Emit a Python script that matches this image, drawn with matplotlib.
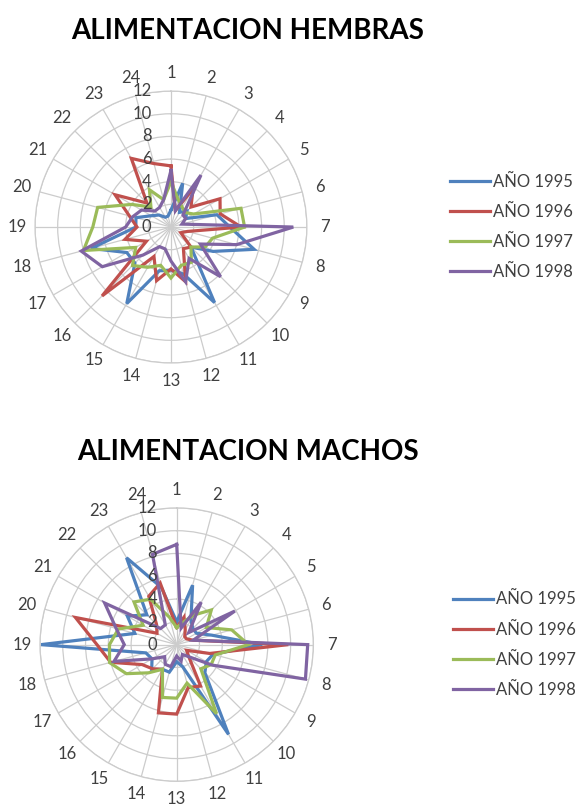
import numpy as np
import matplotlib
matplotlib.use("Agg")
import matplotlib.pyplot as plt
import matplotlib.transforms as mtransforms
from matplotlib.lines import Line2D

# --- datos ---
CATEGORIAS = ["1", "2", "3", "4", "5", "6", "7", "8", "9", "10", "11", "12",
              "13", "14", "15", "16", "17", "18", "19", "20", "21", "22", "23", "24"]
SERIES = ["AÑO 1995", "AÑO 1996", "AÑO 1997", "AÑO 1998"]
R_TICKS = [0, 2, 4, 6, 8, 10, 12]

hembras_1995 = [1.5, 4.0, 1.5, 2.0, 1.5, 4.2, 5.2, 7.6, 4.3, 2.5, 7.7, 4.3,
                3.8, 4.0, 7.8, 4.5, 4.5, 7.3, 3.1, 3.2, 2.0, 1.5, 1.0, 1.0]
hembras_1996 = [5.4, 1.5, 3.9, 2.5, 5.0, 4.5, 6.2, 1.5, 1.0, 2.5, 2.2, 5.0,
                3.7, 4.9, 3.0, 8.6, 2.5, 4.2, 3.0, 3.8, 5.7, 3.0, 7.0, 5.8]
hembras_1997 = [4.0, 2.5, 2.0, 1.8, 2.3, 6.4, 6.5, 3.8, 3.5, 2.5, 3.6, 3.5,
                4.5, 3.5, 4.1, 4.8, 3.6, 8.0, 6.9, 6.7, 4.0, 2.5, 3.8, 2.5]
hembras_1998 = [5.0, 1.5, 5.3, 1.5, 1.5, 1.0, 10.8, 6.0, 3.0, 6.2, 3.2, 5.0,
                3.0, 2.0, 2.0, 3.5, 7.0, 8.2, 4.0, 3.5, 3.0, 2.0, 2.0, 2.5]

machos_1995 = [2.0, 5.4, 2.5, 2.0, 2.0, 3.2, 7.5, 3.3, 3.0, 3.5, 9.1, 2.0,
               1.5, 2.5, 2.5, 3.1, 2.5, 2.8, 11.9, 3.8, 5.0, 3.7, 8.8, 5.2]
machos_1996 = [1.5, 2.5, 1.5, 1.0, 1.0, 1.5, 9.8, 3.0, 1.0, 1.5, 4.2, 3.9,
               6.1, 6.2, 2.5, 3.0, 3.5, 6.0, 7.0, 9.2, 2.0, 2.5, 4.9, 5.6]
machos_1997 = [1.5, 2.0, 3.0, 4.3, 3.0, 5.0, 6.3, 3.5, 3.5, 3.0, 7.0, 3.5,
               4.7, 4.8, 2.5, 3.5, 5.1, 6.1, 5.9, 5.3, 3.4, 5.3, 4.6, 2.5]
machos_1998 = [8.8, 1.5, 4.3, 1.5, 5.9, 1.5, 11.5, 11.7, 3.6, 1.5, 1.0, 1.5,
               1.0, 2.0, 2.0, 1.5, 2.5, 5.7, 4.6, 5.5, 7.3, 2.0, 2.0, 8.2]

# colores estilo Excel 2007
COLORES = ["#4F81BD", "#C0504D", "#9BBB59", "#8064A2"]
GRIS_GRID = "#cccccc"
GRIS_TEXTO = "#404040"

plt.rcParams['font.family'] = ['Lato', 'DejaVu Sans']

fig = plt.figure(figsize=(5.76, 8.08), dpi=100)


def radar(rect, series_vals, titulo, y_titulo, legend_x):
    """Dibuja un grafico radial estilo Excel en la posicion rect."""
    ax = fig.add_axes(rect, projection='polar')
    ax.set_theta_zero_location('N')
    ax.set_theta_direction(-1)

    n = len(CATEGORIAS)
    angulos = np.linspace(0, 2 * np.pi, n, endpoint=False)
    ang_cerrado = np.append(angulos, angulos[0])

    for vals, color in zip(series_vals, COLORES):
        v = np.append(vals, vals[0])
        ax.plot(ang_cerrado, v, color=color, lw=2.3, solid_joinstyle='miter')

    ax.set_ylim(0, 12)
    ax.set_yticks(R_TICKS)
    ax.set_yticklabels([])
    ax.set_xticks(angulos)
    ax.set_xticklabels(CATEGORIAS, fontsize=12, color=GRIS_TEXTO)
    ax.tick_params(axis='x', pad=2.5)
    ax.grid(True, color=GRIS_GRID, lw=0.9)
    ax.spines['polar'].set_color(GRIS_GRID)
    ax.spines['polar'].set_linewidth(0.9)

    # etiquetas del eje de valores, a la izquierda del eje vertical
    trans = mtransforms.offset_copy(ax.transData, fig=fig, x=-14, y=0, units='points')
    for r in R_TICKS:
        ax.text(0, r, str(r), transform=trans, ha='right', va='center',
                fontsize=12, color=GRIS_TEXTO)

    fig.text(0.43, y_titulo, titulo, ha='center', va='center',
             fontsize=20, fontweight='bold', color='black')

    handles = [Line2D([], [], color=c, lw=2.3) for c in COLORES]
    centro_y = rect[1] + rect[3] / 2
    fig.legend(handles, SERIES, loc='center left', bbox_to_anchor=(legend_x, centro_y),
               frameon=False, fontsize=12, handlelength=2.4, handletextpad=0.2,
               labelspacing=0.85, borderpad=0, borderaxespad=0, labelcolor=GRIS_TEXTO)
    return ax


radar([0.0608, 0.5507, 0.472, 0.3366],
      [hembras_1995, hembras_1996, hembras_1997, hembras_1998],
      "ALIMENTACION HEMBRAS", 1 - 31 / 808, 450 / 576)
radar([0.0694, 0.0330, 0.4747, 0.3384],
      [machos_1995, machos_1996, machos_1997, machos_1998],
      "ALIMENTACION MACHOS", 1 - 452 / 808, 453 / 576)

fig.savefig("out.png", dpi=100)
